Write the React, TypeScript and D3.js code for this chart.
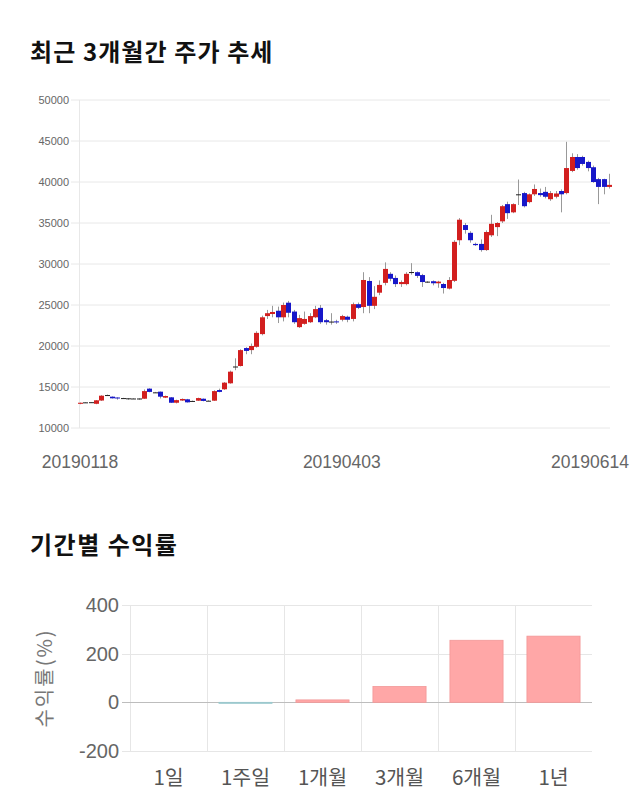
import { useMemo } from 'react';
import * as d3 from 'd3';

// trading days shown on the candle chart
const dates = [
  '20190118', '20190121', '20190122', '20190123', '20190124', '20190125', '20190128', '20190129', '20190130', '20190131',
  '20190201', '20190207', '20190208', '20190211', '20190212', '20190213', '20190214', '20190215', '20190218', '20190219',
  '20190220', '20190221', '20190222', '20190225', '20190226', '20190227', '20190228', '20190304', '20190305', '20190306',
  '20190307', '20190308', '20190311', '20190312', '20190313', '20190314', '20190315', '20190318', '20190319', '20190320',
  '20190321', '20190322', '20190325', '20190326', '20190327', '20190328', '20190329', '20190401', '20190402', '20190403',
  '20190404', '20190405', '20190408', '20190409', '20190410', '20190411', '20190412', '20190415', '20190416', '20190417',
  '20190418', '20190419', '20190422', '20190423', '20190424', '20190425', '20190426', '20190429', '20190430', '20190501',
  '20190502', '20190503', '20190507', '20190508', '20190509', '20190510', '20190513', '20190514', '20190515', '20190516',
  '20190517', '20190520', '20190521', '20190522', '20190523', '20190524', '20190527', '20190528', '20190529', '20190530',
  '20190531', '20190603', '20190604', '20190605', '20190607', '20190610', '20190611', '20190612', '20190613', '20190614',
];

const opens = [
  12950, 13100, 13130, 12950, 13350, 14020, 13820, 13720, 13650, 13620,
  13600, 13600, 13570, 14800, 14350, 14430, 13700, 13740, 13080, 13350,
  13500, 13300, 13330, 13570, 13330, 13330, 14630, 14720, 15450, 17450,
  17560, 19750, 19500, 19900, 21450, 23650, 23900, 24300, 23500, 25280,
  24200, 22300, 22700, 22900, 23500, 24650, 23150, 22960, 23000, 23200,
  23570, 23300, 25100, 24750, 27930, 24900, 26500, 27700, 28800, 28300,
  27550, 27550, 29000, 29000, 28650, 27800, 27900, 27650, 27560, 27000,
  27950, 32900, 34750, 33800, 32450, 32450, 31700, 33500, 34500, 35200,
  37300, 36300, 38450, 38650, 37550, 38500, 38650, 38800, 37900, 38200,
  38900, 38650, 41350, 43050, 43050, 42450, 41800, 40350, 40350, 39400,
];
const highs = [
  13100, 13150, 13160, 13400, 14000, 14080, 13850, 13750, 13680, 13650,
  13640, 13620, 14700, 14850, 14400, 14450, 13950, 13780, 13450, 13600,
  13550, 13350, 13700, 13600, 13380, 14600, 14800, 15600, 17000, 18500,
  19600, 19850, 20300, 21800, 23700, 24400, 24900, 24800, 25300, 25500,
  24400, 23800, 24200, 24000, 24900, 25000, 23300, 24000, 23200, 23800,
  23700, 25300, 25300, 29000, 28400, 27300, 28000, 30200, 29000, 28600,
  28000, 29000, 30100, 29100, 28800, 27900, 28000, 27950, 27700, 28400,
  32900, 35600, 35000, 34000, 32600, 33000, 34100, 36000, 35100, 37200,
  37600, 37400, 40300, 38800, 38600, 39700, 39200, 39400, 38900, 38900,
  39100, 44900, 43500, 43400, 43200, 42600, 42000, 40500, 40400, 41000,
];
const lows = [
  12900, 13080, 13100, 12900, 13300, 13950, 13600, 13450, 13600, 13450,
  13560, 13450, 13550, 14350, 14300, 13600, 13650, 13050, 13000, 13300,
  13100, 13250, 13300, 13250, 13280, 13300, 14350, 14650, 15400, 17050,
  17500, 19000, 19000, 19800, 21300, 23300, 23500, 22800, 23000, 23500,
  22700, 22200, 22600, 22800, 23400, 22700, 22600, 22600, 22700, 23000,
  22900, 23000, 24500, 24000, 24000, 24500, 26200, 27400, 27900, 27200,
  27200, 27400, 28700, 28300, 27200, 27700, 27400, 27100, 26400, 26900,
  27800, 32300, 33700, 32600, 32200, 31500, 31600, 33300, 33400, 35000,
  35500, 36200, 37200, 36900, 37400, 38300, 38200, 38000, 37700, 38000,
  36300, 38500, 41200, 41500, 42000, 41300, 39900, 37300, 38500, 39200,
];
const closes = [
  13080, 13130, 13150, 13380, 13940, 13990, 13620, 13600, 13620, 13600,
  13580, 13580, 14500, 14400, 14330, 13820, 13900, 13080, 13400, 13540,
  13130, 13300, 13650, 13300, 13330, 14500, 14400, 15530, 16870, 17500,
  19500, 19400, 20000, 21600, 23500, 24000, 24150, 23500, 25000, 24050,
  22900, 23400, 23300, 23650, 24500, 22900, 22900, 22980, 22900, 23650,
  23200, 25100, 24650, 28050, 24900, 26000, 27450, 29400, 28200, 27550,
  27800, 28800, 29020, 28550, 27800, 27850, 27650, 27850, 27070, 28050,
  32700, 35400, 34150, 32900, 32300, 31700, 33900, 34900, 35000, 37050,
  36200, 37300, 38500, 37050, 38500, 39150, 38400, 38200, 38650, 38600,
  38500, 41700, 43050, 41700, 42200, 41700, 40000, 39400, 39400, 39650,
];
const priceTicks = [10000, 15000, 20000, 25000, 30000, 35000, 40000, 45000, 50000];
const dateLabels = ['20190118', '20190403', '20190614'];

// period returns (%)
const periods = ['1일', '1주일', '1개월', '3개월', '6개월', '1년'];
const returns = [0, -1, 10, 65, 255, 272];
const returnTicks = [-200, 0, 200, 400];

const KR = '"Noto Sans CJK KR", "Noto Sans", sans-serif';
const NUM = '"Liberation Sans", Arial, sans-serif';

function CandleChart() {
  const x = d3.scalePoint<string>().domain(dates).range([80, 609]);
  const y = d3.scaleLinear().domain([10000, 50000]).range([428, 100]);
  const bw = 4;
  const last = x(dates[dates.length - 1]) as number;

  return (
    <g>
      {priceTicks.map(t => (
        <g key={t}>
          <line x1={71} x2={610} y1={y(t)} y2={y(t)} stroke="#e8e8e8" />
          <text x={69} y={y(t) + 4} textAnchor="end" fontSize={11} fill="#666" fontFamily={NUM}>{t}</text>
        </g>
      ))}
      <line x1={79.5} x2={79.5} y1={100} y2={428} stroke="#e8e8e8" />
      {dates.map((d, i) => {
        const cx = Math.round(x(d) as number) + 0.5;
        const o = opens[i], c = closes[i];
        const up = c >= o;
        const flat = Math.abs(c - o) < 60;
        const top = y(Math.max(o, c));
        const h = Math.max(1, y(Math.min(o, c)) - top);
        const col = flat ? '#222' : up ? '#d21f1f' : '#1717c9';
        return (
          <g key={d}>
            <line x1={cx} x2={cx} y1={y(highs[i])} y2={y(lows[i])} stroke="#999" />
            <rect x={cx - bw / 2 - 0.5} y={top} width={bw + 1} height={h} fill={col} />
          </g>
        );
      })}
      {dateLabels.map(l => {
        let cx = x(l) as number;
        if (cx === last) cx = 590;
        return (
          <text key={l} x={cx} y={468} textAnchor="middle" fontSize={17.5} fill="#666" fontFamily={NUM}>{l}</text>
        );
      })}
    </g>
  );
}

function ReturnChart() {
  const x = d3.scaleBand<string>().domain(periods).range([130, 592]).paddingInner(0.31).paddingOuter(0.155);
  const y = d3.scaleLinear().domain([-200, 400]).range([751, 605]);
  const step = x.step();

  return (
    <g>
      {periods.map((p, i) => (
        <line key={p} x1={130.5 + i * step} x2={130.5 + i * step} y1={605} y2={751} stroke="#e6e6e6" />
      ))}
      {returnTicks.map(t => (
        <g key={t}>
          <line x1={122} x2={592} y1={Math.round(y(t)) + 0.5} y2={Math.round(y(t)) + 0.5} stroke={t === 0 ? '#bdbdbd' : '#e6e6e6'} />
          <text x={119} y={y(t) + 7} textAnchor="end" fontSize={20} fill="#666" fontFamily={NUM}>{t}</text>
        </g>
      ))}
      {periods.map((p, i) => {
        const v = returns[i];
        if (v === 0) return null;
        const yt = y(Math.max(0, v));
        const h = Math.abs(y(v) - y(0));
        return (
          <rect key={p} x={x(p)} y={yt} width={x.bandwidth()} height={Math.max(1, h)}
            fill={v >= 0 ? '#ffa7a7' : '#a9d6d9'} stroke={v >= 0 ? '#f29797' : '#98c8cc'} strokeWidth={0.8} />
        );
      })}
      {periods.map(p => (
        <text key={p} x={(x(p) as number) + x.bandwidth() / 2} y={785} textAnchor="middle" fontSize={20.5} fill="#555" fontFamily={KR}>{p}</text>
      ))}
      <text transform="translate(52,678) rotate(-90)" textAnchor="middle" fontSize={20} letterSpacing={2} fill="#777" fontFamily={KR}>수익률(%)</text>
    </g>
  );
}

export default function App() {
  const w = 640, h = 810;
  const content = useMemo(() => (
    <>
      <rect width={w} height={h} fill="#fff" />
      <text x={30} y={61} fontSize={24} fontWeight="bold" letterSpacing={1.1} fill="#111" fontFamily={KR}>최근 3개월간 주가 추세</text>
      <CandleChart />
      <text x={30} y={554} fontSize={24} fontWeight="bold" letterSpacing={1.5} fill="#111" fontFamily={KR}>기간별 수익률</text>
      <ReturnChart />
    </>
  ), []);
  return (
    <svg width={w} height={h} style={{ position: 'absolute', left: 0, top: 0 }}>
      {content}
    </svg>
  );
}
